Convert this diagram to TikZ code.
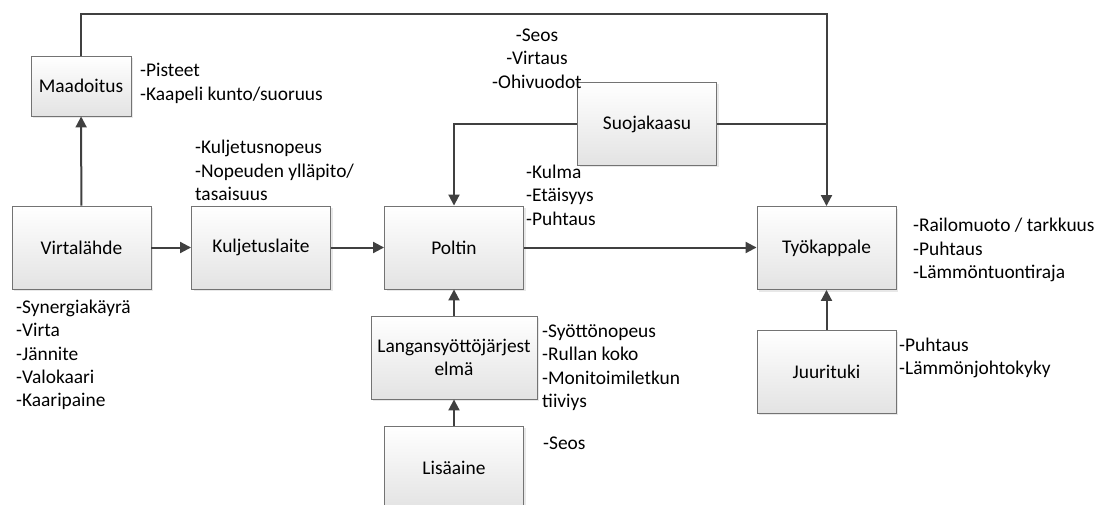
\documentclass[tikz,border=0pt]{standalone}
\usepackage{fontspec}
\setmainfont{Carlito}
\usepackage{xcolor}
\usepackage{tikz}
\usetikzlibrary{arrows.meta,shadows}

\definecolor{linegray}{HTML}{404040}
\definecolor{boxedge}{HTML}{737373}

\begin{document}
\begin{tikzpicture}[x=1pt, y=-1pt,
    every node/.style={font=\fontsize{19.4}{23.4}\selectfont},
    box/.style={draw=boxedge, line width=0.9pt, top color=white, bottom color=black!11,
      minimum width=139pt, minimum height=83pt, align=center,
      drop shadow={opacity=0.18, shadow xshift=2pt, shadow yshift=-2pt}},
    note/.style={inner sep=0pt, anchor=west, align=left},
    conn/.style={draw=linegray, line width=2pt},
    arr/.style={conn, -{Triangle[length=11pt, width=11pt]}}]
  \useasboundingbox (0,0) rectangle (1102,505);
  \clip (0,0) rectangle (1102,505);

  % Boxes of the welding chain
  \node[box, minimum width=100pt, minimum height=60pt] (maa) at (81,86) {Maadoitus};
  \node[box] (virta) at (81.5,247.5) {Virtalähde};
  \node[box] (kulj)  at (261,247.5) {Kuljetuslaite};
  \node[box] (polt)  at (454,247.5) {Poltin};
  \node[box] (suoja) at (647,124) {Suojakaasu};
  \node[box] (tyo)   at (826.5,248) {Työkappale};
  \node[box] (juuri) at (826.5,371.5) {Juurituki};
  \node[box, minimum width=166pt] (lanka) at (454,357.5) {Langansyöttöjärjest\\elmä};
  \node[box] (lisa)  at (454,467.5) {Lisäaine};

  % Lists of properties
  \node[note] (maa-t)   at (140,83.5) {-Pisteet\\-Kaapeli kunto/suoruus};
  \node[note] (kulj-t)  at (195,170.5) {-Kuljetusnopeus\\-Nopeuden ylläpito/\\tasaisuus};
  \node[note] (virta-t) at (16,355) {-Synergiakäyrä\\-Virta\\-Jännite\\-Valokaari\\-Kaaripaine};
  \node[note, anchor=center, align=center] (suoja-t) at (537,58.5) {-Seos\\-Virtaus\\-Ohivuodot};
  \node[note] (polt-t)  at (526,195) {-Kulma\\-Etäisyys\\-Puhtaus};
  \node[note] (tyo-t)   at (913,250) {-Railomuoto / tarkkuus\\-Puhtaus\\-Lämmöntuontiraja};
  \node[note] (juuri-t) at (899,358) {-Puhtaus\\-Lämmönjohtokyky};
  \node[note] (lanka-t) at (542,367.5) {-Syöttönopeus\\-Rullan koko\\-Monitoimiletkun\\tiiviys};
  \node[note] (lisa-t)  at (543,443) {-Seos};

  % Connectors
  \coordinate (yla) at (81,14);
  \draw[arr] (virta) -- (maa);
  \draw[arr] (maa.north) -- (yla) -| (tyo.north);
  \draw[arr] (suoja.west) -| (polt.north);
  \draw[conn] (suoja.east) -- (suoja.east -| tyo.north);
  \draw[arr] (virta) -- (kulj);
  \draw[arr] (kulj) -- (polt);
  \draw[arr] (polt.east) -- (polt.east -| tyo.west);
  \draw[arr] (lanka) -- (polt);
  \draw[arr] (lisa) -- (lanka);
  \draw[arr] (juuri) -- (tyo);
\end{tikzpicture}
\end{document}
